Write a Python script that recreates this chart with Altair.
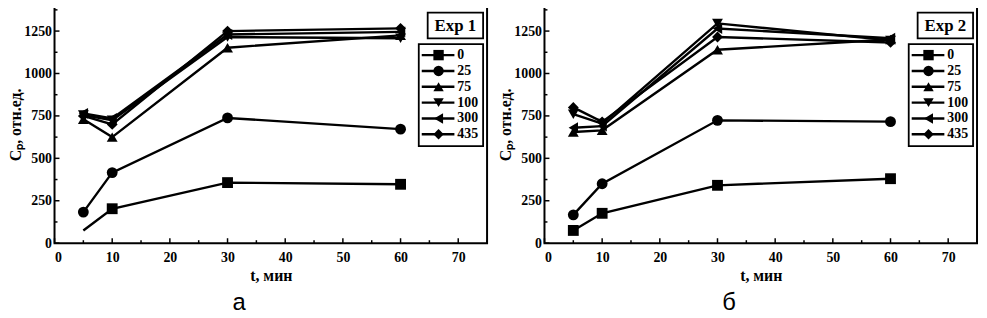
import altair as alt
import pandas as pd

t_min = [5, 10, 30, 60]
conc = ["0", "25", "75", "100", "300", "435"]
shapes = ["square", "circle", "triangle-up", "triangle-down", "triangle-left", "diamond"]

exp1 = {
    "0": [75, 203, 357, 347],
    "25": [183, 416, 738, 672],
    "75": [730, 625, 1152, 1225],
    "100": [755, 725, 1215, 1208],
    "300": [765, 735, 1230, 1245],
    "435": [750, 700, 1250, 1266],
}
exp1_no_marker = [("0", 5)]

exp2 = {
    "0": [75, 176, 341, 380],
    "25": [167, 350, 724, 716],
    "75": [655, 665, 1140, 1200],
    "100": [760, 705, 1295, 1195],
    "300": [680, 690, 1265, 1208],
    "435": [800, 715, 1215, 1183],
}
exp2_no_marker = []

x_major = [0, 10, 20, 30, 40, 50, 60, 70]
x_minor = [5, 15, 25, 35, 45, 55, 65, 75]
y_major = [0, 250, 500, 750, 1000, 1250]
y_minor = [125, 375, 625, 875, 1125, 1375]

W, H = 437, 240
SERIF = "Liberation Serif"

def long_df(d, no_marker):
    rows = []
    for c in conc:
        for t, v in zip(t_min, d[c]):
            rows.append({"c": c, "t": t, "v": v, "m": (c, t) not in no_marker})
    return pd.DataFrame(rows)

xs = alt.Scale(domain=[0, 75], nice=False)
ys = alt.Scale(domain=[0, 1400], nice=False)
shape_enc = alt.Shape("c:N", scale=alt.Scale(domain=conc, range=shapes), legend=None)

def panel(d, no_marker, exp_label, letter):
    df = long_df(d, no_marker)
    base = alt.Chart(df)
    lines = base.mark_line(color="black", strokeWidth=2.4).encode(
        x=alt.X("t:Q", scale=xs, axis=alt.Axis(
            values=x_major, ticks=False, domain=False, grid=False, labelPadding=8,
            title="t, мин", titlePadding=3, format="d")),
        y=alt.Y("v:Q", scale=ys, axis=alt.Axis(
            values=y_major, ticks=False, domain=False, grid=False, labelPadding=3,
            title="Cₚ, отн.ед.", titlePadding=0, format="d")),
        detail="c:N",
        order="t:Q",
    )
    pts = base.transform_filter("datum.m").mark_point(
        filled=True, color="black", size=120, opacity=1
    ).encode(
        x=alt.X("t:Q", scale=xs),
        y=alt.Y("v:Q", scale=ys),
        shape=shape_enc,
    )
    xmaj = pd.DataFrame({"x": x_major})
    xmin = pd.DataFrame({"x": x_minor})
    ymaj = pd.DataFrame({"y": y_major})
    ymin = pd.DataFrame({"y": y_minor})
    tick_layers = [
        alt.Chart(xmaj).mark_rule(color="black", strokeWidth=1.5).encode(
            x=alt.X("x:Q", scale=xs), y=alt.value(H), y2=alt.value(H - 5)),
        alt.Chart(xmin).mark_rule(color="black", strokeWidth=1.5).encode(
            x=alt.X("x:Q", scale=xs), y=alt.value(H), y2=alt.value(H - 3)),
        alt.Chart(ymaj).mark_rule(color="black", strokeWidth=1.5).encode(
            y=alt.Y("y:Q", scale=ys), x=alt.value(0), x2=alt.value(5)),
        alt.Chart(ymin).mark_rule(color="black", strokeWidth=1.5).encode(
            y=alt.Y("y:Q", scale=ys), x=alt.value(0), x2=alt.value(3)),
    ]
    plot = alt.layer(lines, pts, *tick_layers)

    leg_df = pd.DataFrame({"c": conc})
    ly = alt.Y("c:N", type="nominal", scale=alt.Scale(type="point", domain=conc, range=[50, 130], padding=0), axis=None)
    box_df = pd.DataFrame({"label": [exp_label]})
    leg_box = alt.Chart(box_df).mark_rect(fill="white", stroke="black", strokeWidth=1.8).encode(
        x=alt.value(368), x2=alt.value(433), y=alt.value(39), y2=alt.value(142))
    exp_box = alt.Chart(box_df).mark_rect(fill="white", stroke="black", strokeWidth=1.8).encode(
        x=alt.value(377), x2=alt.value(433), y=alt.value(7), y2=alt.value(33))
    exp_text = alt.Chart(box_df).mark_text(
        font=SERIF, fontWeight="bold", fontSize=17, color="black", align="center", baseline="middle"
    ).encode(x=alt.value(405), y=alt.value(21), text="label:N")
    leg_line = alt.Chart(leg_df).mark_rule(color="black", strokeWidth=2.4).encode(
        x=alt.value(371), x2=alt.value(404), y=ly)
    leg_pts = alt.Chart(leg_df).mark_point(filled=True, color="black", size=110, opacity=1).encode(
        x=alt.value(388), y=ly, shape=shape_enc)
    leg_txt = alt.Chart(leg_df).mark_text(
        font=SERIF, fontWeight="bold", fontSize=14, color="black", align="left", baseline="middle"
    ).encode(x=alt.value(407), y=ly, text="c:N")
    legend = alt.layer(leg_box, exp_box, exp_text, leg_line, leg_pts, leg_txt)

    return alt.layer(plot, legend).resolve_scale(y="independent").properties(
        width=W, height=H,
        title=alt.TitleParams(letter, orient="bottom", font="Liberation Sans", fontSize=24,
                              fontWeight="normal", color="black", dx=-32, offset=8),
    )

chart = alt.hconcat(
    panel(exp1, exp1_no_marker, "Exp 1", "а"),
    panel(exp2, exp2_no_marker, "Exp 2", "б"),
    spacing=8,
).properties(
    padding={"left": -1, "top": -5, "right": 0, "bottom": 0},
    background="white",
).configure_view(
    stroke="black", strokeWidth=2
).configure_axis(
    labelFont=SERIF, labelFontWeight="bold", labelFontSize=14, labelColor="black",
    titleFont=SERIF, titleFontWeight="bold", titleFontSize=16, titleColor="black",
)

chart.save("out.html", embed_options={"renderer": "svg", "actions": False})
